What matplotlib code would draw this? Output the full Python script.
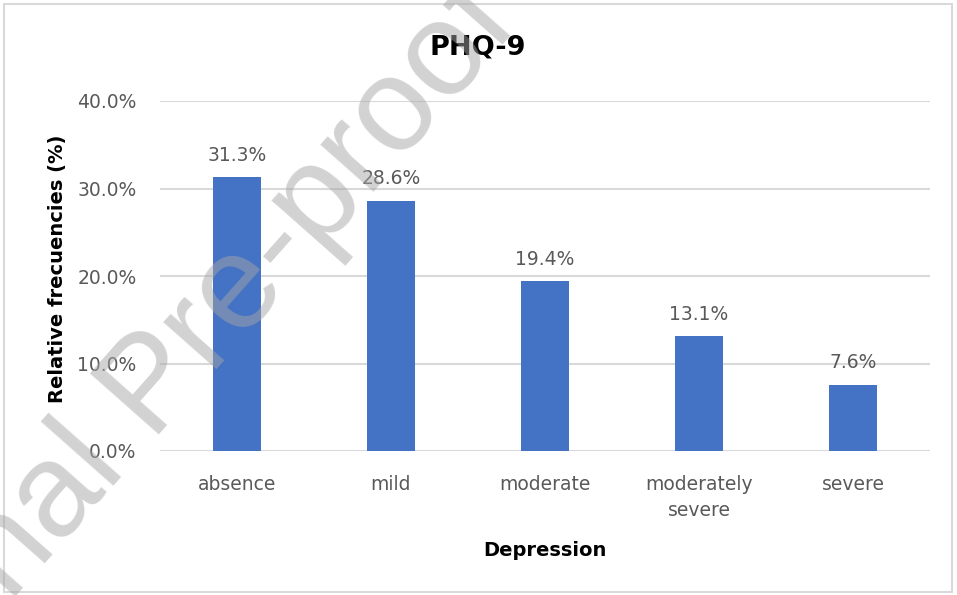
import matplotlib
import matplotlib.pyplot as plt
from matplotlib import patches

matplotlib.use('Agg')
plt.rcParams['font.family'] = ['DejaVu Sans']

categories = ['absence', 'mild', 'moderate', 'moderately\nsevere', 'severe']
values = [31.3, 28.6, 19.4, 13.1, 7.6]
yticks = [0, 10, 20, 30, 40]

fig = plt.figure(figsize=(9.57, 5.95), dpi=100)
ax = fig.add_axes([160 / 957, 1 - 451 / 595, 770 / 957, 350 / 595])

x = range(len(categories))
ax.bar(x, values, width=0.31, color='#4472C4', zorder=3)
for i, v in enumerate(values):
    ax.annotate('%.1f%%' % v, (i, v), xytext=(0, 9), textcoords='offset points',
                ha='center', va='bottom', fontsize=13.5, color='#595959')

ax.set_xlim(-0.5, len(categories) - 0.5)
ax.set_ylim(0, 40)
ax.set_yticks(yticks)
ax.set_yticklabels(['%.1f%%' % t for t in yticks], fontsize=13.5, color='#595959')
ax.set_xticks(list(x))
ax.set_xticklabels(categories, fontsize=13.5, color='#595959', linespacing=1.5, va='top')
ax.tick_params(length=0)
ax.tick_params(axis='x', pad=17)
ax.tick_params(axis='y', pad=17)
ax.yaxis.grid(True, color='#D9D9D9', linewidth=1.5, zorder=0)
for s in ax.spines.values():
    s.set_visible(False)

fig.text(478 / 957, 1 - 47 / 595, 'PHQ-9', ha='center', va='center',
         fontsize=19.5, fontweight='bold', color='#000000')
fig.text(545 / 957, 1 - 550 / 595, 'Depression', ha='center', va='center',
         fontsize=14, fontweight='bold', color='#000000')
fig.text(57 / 957, 1 - 269 / 595, 'Relative frecuencies (%)', ha='center', va='center',
         rotation=90, fontsize=14, fontweight='bold', color='#000000')

# chart border
fig.patches.append(patches.Rectangle((3.5 / 957, 3.5 / 595), 948 / 957, 588 / 595,
                                     transform=fig.transFigure, fill=False,
                                     edgecolor='#D9D9D9', linewidth=1.5))

# watermark
fig.text(-0.169, -0.3405, 'Journal Pre-proof', ha='left', va='baseline',
         rotation=48.5, rotation_mode='anchor', family='Liberation Sans',
         fontsize=96, color='#A6A6A6', alpha=0.5, zorder=10)

fig.savefig('out.png', dpi=100)
